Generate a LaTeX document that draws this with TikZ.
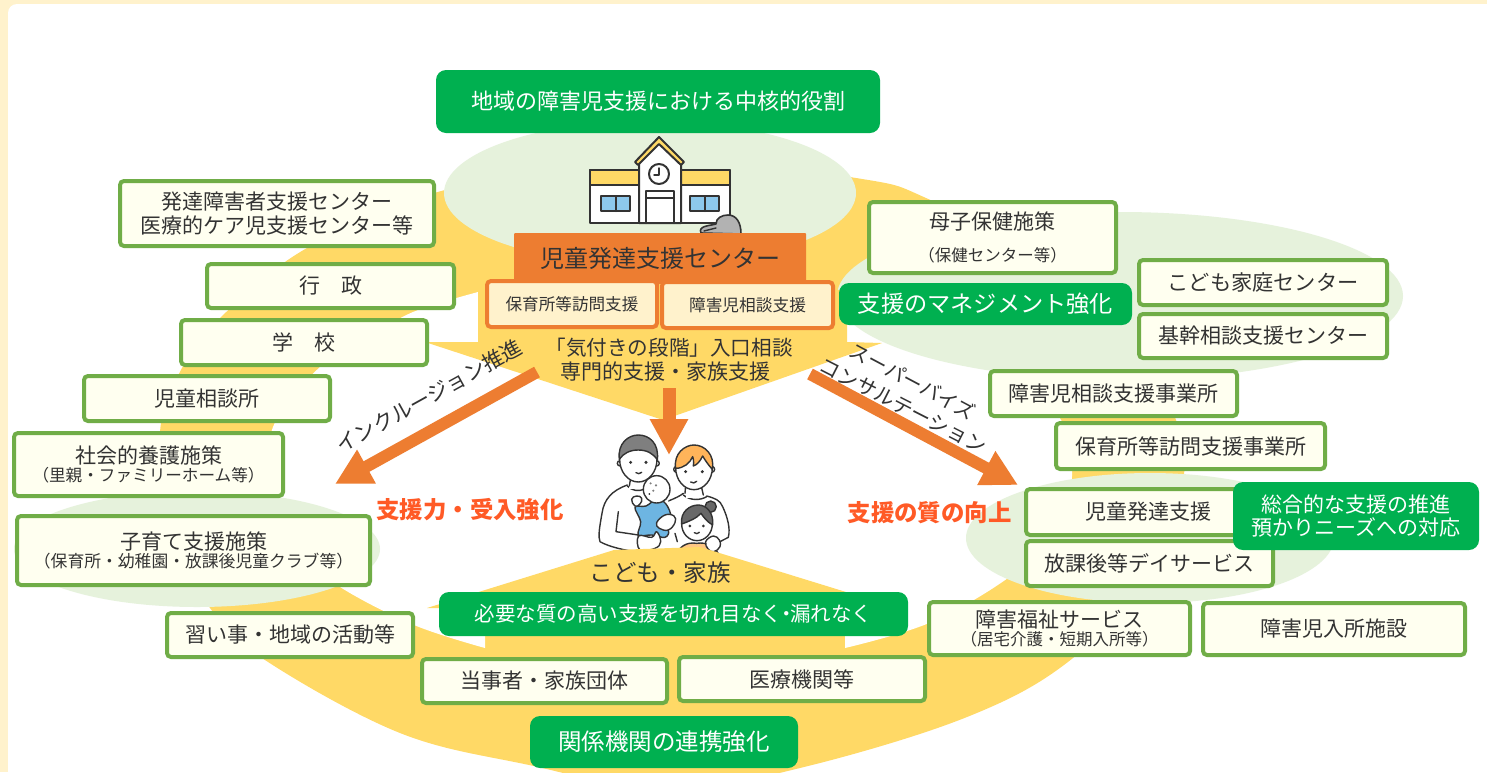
\documentclass[tikz,border=0pt]{standalone}
\usepackage{fontspec}
\setmainfont{Noto Sans CJK JP}
\usetikzlibrary{arrows.meta}
\definecolor{bgc}{HTML}{FFF2CC}
\definecolor{ylw}{HTML}{FFD966}
\definecolor{pale}{HTML}{E6F2DC}
\definecolor{grn}{HTML}{70AD47}
\definecolor{ivory}{HTML}{FFFFF0}
\definecolor{dgrn}{HTML}{00B050}
\definecolor{org}{HTML}{ED7D31}
\definecolor{red1}{HTML}{FF5A26}
\definecolor{ink}{HTML}{333333}
\definecolor{sky}{HTML}{8DC8EC}
\definecolor{babyb}{HTML}{6DB5E2}
\definecolor{hairg}{HTML}{7F7F7F}
\definecolor{hairo}{HTML}{FFB45A}
\newcommand{\fs}[1]{\fontsize{#1}{#1}\selectfont}
\newcommand{\bx}[7]{\node[#6,minimum width={(#4-#2)*1pt},minimum height={(#5-#3)*1pt}] (#1) at ({(#2+#4)/2},{(#3+#5)/2}) {#7};}
\tikzset{
  gbox/.style={rectangle,rounded corners=4pt,draw=grn,line width=4pt,fill=ivory,inner sep=0pt,align=center,text=ink},
  dbox/.style={rectangle,rounded corners=10pt,fill=dgrn,inner sep=0pt,align=center,text=white},
  obox/.style={rectangle,rounded corners=4pt,draw=org,line width=4pt,fill=bgc,inner sep=0pt,align=center,text=ink},
  headbox/.style={rectangle,rounded corners=1pt,fill=org,inner sep=0pt,align=center,text=ink},
  plain/.style={inner sep=0pt,align=center,text=ink},
  redtxt/.style={inner sep=0pt,text=red1,font=\bfseries},
  bigarrow/.style={draw=org,line width=12pt,-{Triangle[width=36pt,length=36pt,fill=org]}},
  ln/.style={draw=ink,line width=1.4pt,line cap=round,line join=round}
}
\begin{document}
\begin{tikzpicture}[x=1pt,y=-1pt]
\useasboundingbox (0,0) rectangle (1487,772);
\fill[bgc] (0,0) rectangle (1487,772);
\fill[white,rounded corners=9pt] (8,4) rectangle (1520,800);
% yellow ring
\begin{scope}
\clip (0,0) rectangle (1487,772);
\fill[ylw] plot[smooth cycle,tension=.6] coordinates {(665,790)(800,768)(967,717)(1073,658)(1165,560)(1184,475)(1176,420)(1130,330)(1040,260)(926,198)(856,178)(660,155)(445,190)(307,248)(220,318)(182,368)(160,432)(170,530)(210,608)(265,660)(400,733)(529,765)};
\end{scope}
% white interior
\fill[white] (478,292) -- plot[smooth,tension=.6] coordinates {(478,292)(418,310)(380,330)(320,367)(273,427)(268,500)(295,550)(340,587)(414,625)(485,648)} -- (485,620) -- (845,620) -- plot[smooth,tension=.6] coordinates {(845,648)(929,623)(1008,578)(1060,530)(1072,475)(1061,420)(1010,360)(930,320)(847,300)} -- cycle;
% pale ellipses
\fill[pale] (650,193) ellipse [x radius=206,y radius=72];
\fill[pale] (1120,296) ellipse [x radius=283,y radius=84];
\fill[pale] (1150,538) ellipse [x radius=184,y radius=65];
\fill[pale] (197,549) ellipse [x radius=183,y radius=58];
% top pentagon
\fill[ylw] (425,342) -- (478,342) -- (478,290) -- (847,290) -- (847,342) -- (882,343) -- (663,420) -- cycle;
% family, in the reference's 3x crop coordinates
\begin{scope}[shift={(540,400)},x=0.3333pt,y=-0.3333pt]
 % mother
 \fill[white] (385,305) -- (430,280) -- (500,295) -- (540,300) .. controls (565,340) and (572,385) .. (565,415) -- (535,470) -- (400,470) -- cycle;
 \draw[ln] (385,303) .. controls (405,295) and (420,288) .. (430,280);
 \draw[ln] (430,285) .. controls (450,302) and (480,302) .. (500,290);
 \draw[ln] (500,288) .. controls (525,295) and (540,300) .. (548,320) .. controls (562,350) and (572,385) .. (565,412) -- (540,425);
 \draw[ln] (405,400) -- (412,425);
 \fill[white] (438,235) rectangle (482,295);
 \draw[ln] (438,245) -- (435,280); \draw[ln] (482,250) -- (490,285);
 \filldraw[ln,fill=white] (410,208) circle (9); \filldraw[ln,fill=white] (515,208) circle (9);
 \filldraw[ln,fill=white] (462,203) ellipse [x radius=55,y radius=66];
 \filldraw[ln,fill=hairo] (407,205) .. controls (400,160) and (435,135) .. (462,135) .. controls (495,135) and (525,165) .. (517,208) .. controls (505,195) and (495,180) .. (488,168) .. controls (480,185) and (470,195) .. (460,198) .. controls (462,185) and (460,175) .. (458,170) .. controls (450,190) and (430,205) .. (407,205) -- cycle;
 \fill[ink] (437,215) circle (5); \fill[ink] (487,215) circle (5);
 \draw[ln] (452,246) .. controls (458,250) and (465,250) .. (470,244);
 % father
 \fill[white] (262,255) .. controls (215,272) and (192,298) .. (186,340) .. controls (178,385) and (174,410) .. (180,425) .. controls (210,442) and (260,452) .. (295,456) -- (375,440) -- (385,300) -- (310,268) -- cycle;
 \draw[ln] (262,255) .. controls (215,272) and (192,298) .. (186,340) .. controls (178,385) and (174,410) .. (180,425) .. controls (210,442) and (260,452) .. (295,456);
 \draw[ln] (262,258) .. controls (275,272) and (295,275) .. (312,268);
 \draw[ln] (235,335) -- (228,395) -- (295,405) -- (298,455);
 \fill[white] (268,225) rectangle (318,268);
 \draw[ln] (272,235) -- (268,258); \draw[ln] (320,238) -- (320,262);
 \filldraw[ln,fill=white] (240,190) circle (8); \filldraw[ln,fill=white] (350,190) circle (8);
 \filldraw[ln,fill=white] (295,178) ellipse [x radius=56,y radius=68];
 \filldraw[ln,fill=hairg] (238,178) .. controls (232,130) and (265,105) .. (295,105) .. controls (328,105) and (358,130) .. (352,180) .. controls (340,160) and (320,150) .. (295,150) .. controls (270,150) and (250,160) .. (238,178) -- cycle;
 \fill[ink] (272,187) circle (5); \fill[ink] (318,187) circle (5);
 \draw[ln] (288,218) .. controls (293,222) and (300,222) .. (305,217);
 % baby
 \filldraw[ln,fill=babyb] plot[smooth cycle,tension=.6] coordinates {(285,322)(318,318)(350,298)(378,312)(392,350)(362,355)(352,375)(385,392)(375,412)(335,405)(295,405)(302,365)};
 \filldraw[ln,fill=white] (350,268) ellipse [x radius=40,y radius=41];
 \fill[hairg] (332,250) circle (3.5); \fill[hairg] (348,256) circle (3.5); \fill[hairg] (340,272) circle (3.5); \fill[ink] (328,282) circle (3);
 \filldraw[ln,fill=white] plot[smooth cycle,tension=.8] coordinates {(275,298)(290,288)(305,295)(300,312)(285,318)};
 % father's hands
 \filldraw[ln,fill=white] plot[smooth cycle,tension=.7] coordinates {(350,368)(375,345)(402,348)(405,368)(385,390)(358,385)};
 \filldraw[ln,fill=white] plot[smooth cycle,tension=.7] coordinates {(296,408)(335,412)(350,395)(362,425)(345,445)(300,450)};
 % child
 \filldraw[ln,fill=hairo!75!white] (408,470) .. controls (415,440) and (440,425) .. (470,430) .. controls (500,425) and (530,440) .. (538,470) -- cycle;
 \filldraw[ln,fill=hairg!70!ink] (512,320) circle (17);
 \filldraw[ln,fill=white] (471,372) ellipse [x radius=46,y radius=50];
 \filldraw[ln,fill=hairg!70!ink] (425,372) .. controls (420,335) and (450,315) .. (475,315) .. controls (500,315) and (522,340) .. (518,375) .. controls (500,365) and (490,350) .. (483,340) .. controls (470,355) and (445,365) .. (425,372) -- cycle;
 \fill[ink] (450,378) circle (4.5); \fill[ink] (490,378) circle (4.5);
 \draw[ln] (463,398) .. controls (468,402) and (474,402) .. (478,397);
 \filldraw[ln,fill=white] plot[smooth cycle,tension=.7] coordinates {(497,425)(520,408)(538,420)(540,440)(522,455)(505,448)};
\end{scope}
% bottom pentagon
\fill[ylw] (427,608) -- (614,550) -- (700,547) -- (846,592) -- (903,610) -- (845,625) -- (485,625) -- (485,608) -- cycle;
% school
\begin{scope}
 \filldraw[ln,line width=2pt,fill=white] (590,170) rectangle (730,223);
 \filldraw[ln,line width=2pt,fill=ylw] (590,170) rectangle (730,185);
 \filldraw[ln,line width=2pt,fill=white] (639,223) -- (639,160) -- (659,142) -- (681,160) -- (681,223) -- cycle;
 \filldraw[ln,line width=2pt,fill=ylw] (635,162) -- (659,137) -- (684,162) -- (681,165) -- (659,144) -- (638,165) -- cycle;
 \filldraw[ln,line width=2pt,fill=white] (659,174) circle (10);
 \draw[ln] (659,168) -- (659,175) -- (654,175);
 \draw[ln,line width=2pt] (646,223) -- (646,191) -- (674,191) -- (674,223); \draw[ln,line width=2pt] (646,198) -- (674,198);
 \filldraw[ln,line width=2pt,fill=sky] (601,196) rectangle (630,211); \draw[ln,line width=2pt] (615.5,196) -- (615.5,211);
 \filldraw[ln,line width=2pt,fill=sky] (690,196) rectangle (719,211); \draw[ln,line width=2pt] (704.5,196) -- (704.5,211);
 % grey figure
 \filldraw[ln,line width=1.6pt,fill=black!30] (701,233) .. controls (698,226) and (708,226) .. (716,224) .. controls (716,218) and (722,215) .. (728,215) .. controls (736,215) and (741,222) .. (741,234) -- cycle;
 \draw[ln] (704,231) -- (716,228);
\end{scope}
% arrows
\coordinate (cStartL) at (537,372); \coordinate (cEndL) at (335,484);
\coordinate (cStartR) at (810,374); \coordinate (cEndR) at (1018,485);
\coordinate (cStartC) at (669,388); \coordinate (cEndC) at (669,455);
\draw[bigarrow] (cStartL) -- (cEndL);
\draw[bigarrow] (cStartR) -- (cEndR);
\draw[bigarrow,line width=13pt] (cStartC) -- (cEndC);
% green title boxes
\bx{tTop}{436}{70}{880}{133}{dbox}{\fs{22}地域の障害児支援における中核的役割}
\bx{tMgmt}{839}{283}{1132}{325}{dbox}{\fs{23.2}支援のマネジメント強化}
\bx{tNeed}{439}{592}{908}{636}{dbox}{\fs{20.5}必要な質の高い支援を切れ目なく\hspace{-.3em}・\hspace{-.3em}漏れなく}
\bx{tRel}{530}{716}{798}{768}{dbox}{\fs{23.5}関係機関の連携強化}
% center
\bx{cHead}{514}{233}{806}{284}{headbox}{\fs{24}児童発達支援センター}
\bx{cA}{487}{281}{657}{327}{obox}{\fs{16.6}保育所等訪問支援}
\bx{cB}{662}{282}{833}{328}{obox}{\fs{16.7}障害児相談支援}
\node[plain] (cTxtA) at (669,348) {\fs{20.6}「気付きの段階」入口相談};
\node[plain] (cTxtB) at (665,371) {\fs{21}専門的支援・家族支援};
% left boxes
\bx{bDev}{120}{181}{434}{246}{gbox}{\fs{21}発達障害者支援センター\\[3pt]\fs{21}医療的ケア児支援センター等}
\bx{bGov}{207}{264}{454}{308}{gbox}{\fs{21}行\hspace{1em}政}
\bx{bSch}{181}{320}{427}{365}{gbox}{\fs{21}学\hspace{1em}校}
\bx{bChild}{84}{376}{330}{421}{gbox}{\fs{21}児童相談所}
\bx{bSoc}{14}{433}{283}{496}{gbox}{\fs{21}社会的養護施策\\[1pt]\fs{16.6}（里親・ファミリーホーム等）}
\bx{bKos}{17}{516}{370}{585}{gbox}{\fs{21}子育て支援施策\\[1pt]\fs{16.8}（保育所・幼稚園・放課後児童クラブ等）}
\bx{bLes}{167}{613}{413}{657}{gbox}{\fs{21}習い事・地域の活動等}
\bx{bTou}{422}{659}{667}{703}{gbox}{\fs{21}当事者・家族団体}
\bx{bMed}{679}{657}{925}{701}{gbox}{\fs{21}医療機関等}
% right boxes
\bx{bBoshi}{869}{202}{1116}{273}{gbox}{\fs{21}母子保健施策\\[15pt]\fs{16.5}（保健センター等）}
\bx{bFam}{1139}{260}{1387}{305}{gbox}{\fs{21.2}こども家庭センター}
\bx{bKikan}{1139}{314}{1387}{358}{gbox}{\fs{21}基幹相談支援センター}
\bx{bSoudan}{990}{371}{1237}{416}{gbox}{\fs{21}障害児相談支援事業所}
\bx{bHoiku}{1056}{423}{1325}{469}{gbox}{\fs{21}保育所等訪問支援事業所}
\bx{bHattatsu}{1026}{489}{1270}{535}{gbox}{\fs{21}児童発達支援}
\bx{bAfter}{1026}{541}{1273}{586}{gbox}{\fs{21}放課後等デイサービス}
\bx{bWelf}{929}{602}{1190}{655}{gbox}{\fs{21}障害福祉サービス\\[1pt]\fs{16.5}（居宅介護・短期入所等）}
\bx{bNyu}{1203}{603}{1465}{655}{gbox}{\fs{21}障害児入所施設}
\bx{tSogo}{1233}{482}{1479}{550}{dbox}{\fs{21}総合的な支援の推進\\[2pt]\fs{21}預かりニーズへの対応}
% labels
\node[redtxt] (lA) at (470,510) {\fs{23.4}支援力・受入強化};
\node[redtxt] (lB) at (929.5,513) {\fs{23.4}支援の質の向上};
\node[plain] (lFam) at (660,573) {\fs{23.5}こども・家族};
\node[plain,rotate=29] (lInc) at (429,396) {\fs{21}インクルージョン推進};
\node[plain,rotate=-28] (lSup) at (913,381) {\fs{20}スーパーバイズ};
\node[plain,rotate=-27] (lCon) at (903,406) {\fs{20.5}コンサルテーション};
\end{tikzpicture}
\end{document}
